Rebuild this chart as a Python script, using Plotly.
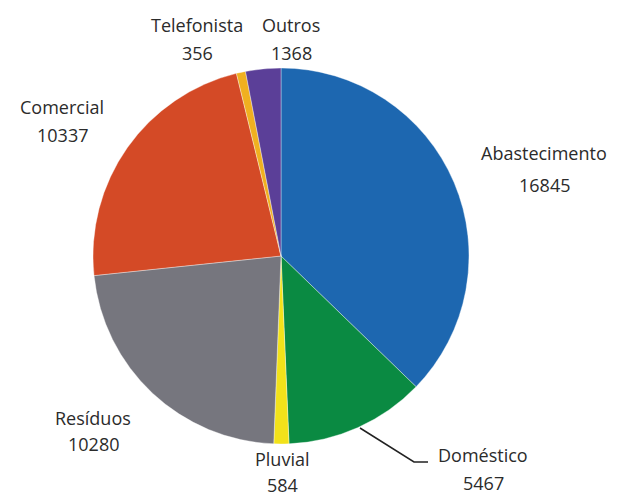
import plotly.graph_objects as go

# Slice data, listed clockwise from 12 o'clock
categories = ["Abastecimento", "Doméstico", "Pluvial", "Resíduos", "Comercial", "Telefonista", "Outros"]
values = [16845, 5467, 584, 10280, 10337, 356, 1368]
colors = ["#1d67b0", "#0a8a42", "#f2e21a", "#76767e", "#d44a26", "#f0b020", "#5b3f98"]

W, H = 617, 497
CX, CY, R = 281, 256, 188  # pie centre and radius in pixels


def px_x(x):
    return x / W


def px_y(y):
    return 1 - y / H


# Label block centres (name line y, value line y), in pixels
label_pos = {
    "Abastecimento": (544, 153, 185),
    "Doméstico": (483, 455, 483),
    "Pluvial": (282, 459, 485),
    "Resíduos": (93, 418, 444),
    "Comercial": (62, 107, 135),
    "Telefonista": (197, 25, 53),
    "Outros": (291, 25, 53),
}

fig = go.Figure(
    go.Pie(
        labels=categories,
        values=values,
        sort=False,
        direction="clockwise",
        rotation=0,
        textinfo="none",
        hoverinfo="label+value",
        marker=dict(colors=colors, line=dict(color="rgba(255,255,255,0.6)", width=0.6)),
        domain=dict(x=[px_x(CX - R), px_x(CX + R)], y=[px_y(CY + R), px_y(CY - R)]),
        showlegend=False,
    )
)

font = dict(family="Open Sans, sans-serif", size=18, color="#2b2b2b")
annotations = []
for name, val in zip(categories, values):
    x, y1, y2 = label_pos[name]
    for txt, y in ((name, y1), (str(val), y2)):
        annotations.append(
            dict(
                x=px_x(x), y=px_y(y), xref="paper", yref="paper",
                text=txt, showarrow=False, font=font,
                xanchor="center", yanchor="middle",
            )
        )

# Leader line for the Doméstico label
fig.add_shape(
    type="path",
    path=f"M {px_x(360)} {px_y(428)} L {px_x(414)} {px_y(462)} L {px_x(428)} {px_y(462)}",
    xref="paper", yref="paper",
    line=dict(color="#222222", width=1.5),
)

fig.update_layout(
    width=W, height=H,
    margin=dict(l=0, r=0, t=0, b=0),
    paper_bgcolor="white",
    plot_bgcolor="white",
    annotations=annotations,
)

fig.write_html("out.html")
